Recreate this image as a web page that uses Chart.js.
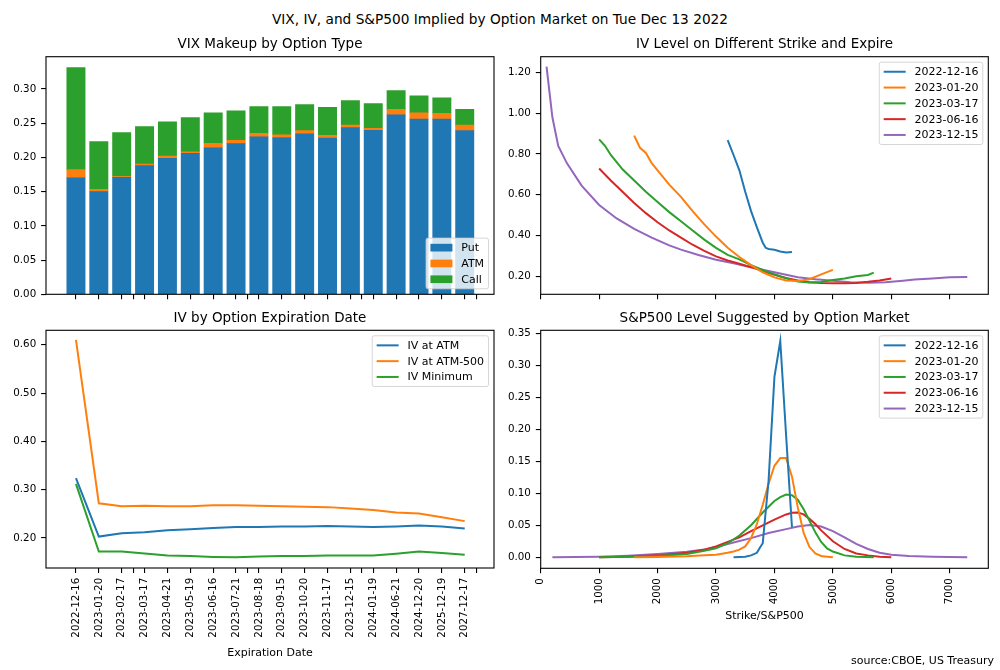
<!DOCTYPE html>
<html>
<head>
<meta charset="utf-8">
<script src="https://cdn.jsdelivr.net/npm/chart.js@4.4.0/dist/chart.umd.min.js"></script>
<style>
  body { margin: 0; background: #fff; width: 1000px; height: 670px; position: relative; overflow: hidden; font-family: "DejaVu Sans", sans-serif; color: #000; }
  canvas { position: absolute; }
  #sup { position: absolute; left: 0; top: 11px; width: 1000px; text-align: center; font-size: 13.7px; line-height: 16px; }
  #src { position: absolute; right: 6px; top: 654px; font-size: 11px; line-height: 13px; }
</style>
</head>
<body>
<div id="sup">VIX, IV, and S&amp;P500 Implied by Option Market on Tue Dec 13 2022</div>
<canvas id="c1" width="500" height="280" style="left:0;top:30px"></canvas>
<canvas id="c2" width="500" height="280" style="left:500px;top:30px"></canvas>
<canvas id="c3" width="500" height="365" style="left:0;top:305px"></canvas>
<canvas id="c4" width="500" height="365" style="left:500px;top:305px"></canvas>
<div id="src">source:CBOE, US Treasury</div>
<script>
// expirations (shared x of the left column)
const expiries = ['2022-12-16', '2023-01-20', '2023-02-17', '2023-03-17', '2023-04-21', '2023-05-19',
  '2023-06-16', '2023-07-21', '2023-08-18', '2023-09-15', '2023-10-20', '2023-11-17',
  '2023-12-15', '2024-01-19', '2024-06-21', '2024-12-20', '2025-12-19', '2027-12-17'];
const oddTicks = [2.5, 7.5, 12.5, 17.5];

// VIX makeup by option type (stacked)
const vixPut  = [0.170, 0.150, 0.171, 0.188, 0.1985, 0.206, 0.214, 0.220, 0.230, 0.229, 0.2345, 0.228, 0.2435, 0.2395, 0.262, 0.256, 0.256, 0.239];
const vixAtm  = [0.012, 0.003, 0.001, 0.002, 0.0035, 0.002, 0.0065, 0.005, 0.005, 0.004, 0.0045, 0.004, 0.0035, 0.003, 0.008, 0.009, 0.008, 0.008];
const vixCall = [0.149, 0.070, 0.064, 0.055, 0.050, 0.050, 0.0445, 0.043, 0.039, 0.041, 0.038, 0.041, 0.036, 0.036, 0.0276, 0.025, 0.023, 0.023];

// IV by expiration
const ivAtm    = [0.324, 0.203, 0.210, 0.212, 0.216, 0.218, 0.221, 0.223, 0.223, 0.224, 0.224, 0.225, 0.224, 0.223, 0.224, 0.226, 0.224, 0.220];
const ivAtm500 = [0.610, 0.272, 0.266, 0.267, 0.266, 0.266, 0.268, 0.268, 0.267, 0.266, 0.265, 0.264, 0.261, 0.258, 0.253, 0.251, 0.243, 0.235];
const ivMin    = [0.312, 0.172, 0.172, 0.168, 0.164, 0.163, 0.161, 0.160, 0.162, 0.163, 0.163, 0.164, 0.164, 0.164, 0.1675, 0.172, 0.169, 0.1655];

// IV smile per expiry: strikes and IV
const smileK1216 = [3200, 3300, 3400, 3500, 3600, 3700, 3800, 3850, 3900, 4000, 4100, 4200, 4300];
const smile1216  = [0.868, 0.795, 0.720, 0.615, 0.520, 0.440, 0.365, 0.340, 0.334, 0.330, 0.322, 0.317, 0.319];
const smileK0120 = [1600, 1650, 1700, 1800, 1900, 2000, 2200, 2400, 2600, 2800, 3000, 3200, 3400, 3600, 3800, 4000, 4200, 4400, 4600, 4800, 5000];
const smile0120  = [0.890, 0.860, 0.830, 0.805, 0.755, 0.720, 0.650, 0.590, 0.520, 0.455, 0.395, 0.340, 0.295, 0.255, 0.220, 0.195, 0.180, 0.177, 0.186, 0.210, 0.232];
const smileK0317 = [1000, 1100, 1200, 1300, 1400, 1600, 1800, 2000, 2200, 2400, 2600, 2800, 3000, 3200, 3400, 3600, 3800, 4000, 4200, 4400, 4600, 4800, 5000, 5200, 5400, 5600, 5700];
const smile0317  = [0.872, 0.840, 0.795, 0.760, 0.725, 0.670, 0.615, 0.565, 0.515, 0.470, 0.425, 0.380, 0.340, 0.305, 0.283, 0.255, 0.232, 0.210, 0.190, 0.175, 0.170, 0.172, 0.182, 0.190, 0.200, 0.207, 0.218];
const smileK0616 = [1000, 1200, 1400, 1600, 1800, 2000, 2200, 2400, 2600, 2800, 3000, 3200, 3400, 3600, 3800, 4000, 4200, 4400, 4600, 4800, 5000, 5200, 5400, 5600, 5800, 6000];
const smile0616  = [0.729, 0.670, 0.615, 0.560, 0.510, 0.465, 0.425, 0.390, 0.355, 0.325, 0.298, 0.278, 0.262, 0.245, 0.226, 0.208, 0.192, 0.180, 0.171, 0.167, 0.166, 0.166, 0.168, 0.173, 0.180, 0.190];
const smileK1215 = [100, 200, 300, 450, 700, 1000, 1300, 1600, 1900, 2200, 2400, 2700, 3000, 3300, 3600, 3900, 4200, 4400, 4700, 5000, 5300, 5600, 5900, 6200, 6400, 6700, 7000, 7300];
const smile1215  = [1.228, 0.980, 0.840, 0.754, 0.645, 0.550, 0.484, 0.433, 0.390, 0.352, 0.331, 0.305, 0.281, 0.264, 0.245, 0.226, 0.208, 0.196, 0.186, 0.179, 0.171, 0.169, 0.171, 0.179, 0.184, 0.189, 0.195, 0.197];

// implied S&P500 distribution per expiry
const pdfK1216 = [3300, 3400, 3500, 3600, 3700, 3750, 3800, 3900, 4000, 4100, 4200, 4300];
const pdf1216  = [0, 0.0005, 0.001, 0.003, 0.007, 0.015, 0.022, 0.120, 0.282, 0.338, 0.190, 0.047];
const pdfK0120 = [1600, 2000, 2500, 2800, 3000, 3200, 3300, 3400, 3500, 3600, 3700, 3800, 3900, 4000, 4100, 4200, 4300, 4400, 4500, 4600, 4700, 4800, 4900, 5000];
const pdf0120  = [0, 0.0005, 0.0015, 0.003, 0.004, 0.007, 0.009, 0.012, 0.017, 0.030, 0.052, 0.082, 0.115, 0.143, 0.155, 0.155, 0.126, 0.078, 0.038, 0.016, 0.006, 0.002, 0.001, 0];
const pdfK0317 = [1000, 1500, 2000, 2500, 2800, 3000, 3200, 3400, 3600, 3800, 4000, 4100, 4200, 4300, 4400, 4500, 4600, 4700, 4800, 4900, 5000, 5200, 5400, 5700];
const pdf0317  = [0, 0.0008, 0.002, 0.005, 0.010, 0.014, 0.022, 0.034, 0.050, 0.070, 0.088, 0.094, 0.098, 0.097, 0.090, 0.075, 0.057, 0.039, 0.024, 0.014, 0.009, 0.003, 0.001, 0];
const pdfK0616 = [1000, 1500, 2000, 2500, 2800, 3000, 3200, 3400, 3600, 3800, 4000, 4200, 4300, 4400, 4500, 4600, 4700, 4800, 5000, 5200, 5400, 5600, 5800, 6000];
const pdf0616  = [0, 0.001, 0.003, 0.007, 0.012, 0.017, 0.024, 0.031, 0.041, 0.050, 0.059, 0.067, 0.0695, 0.070, 0.067, 0.060, 0.052, 0.042, 0.025, 0.013, 0.006, 0.003, 0.001, 0];
const pdfK1215 = [200, 1000, 1500, 2000, 2500, 2800, 3000, 3300, 3600, 3900, 4200, 4400, 4600, 4800, 5000, 5200, 5400, 5600, 5800, 6000, 6300, 6700, 7300];
const pdf1215  = [0, 0.001, 0.0025, 0.005, 0.0085, 0.012, 0.016, 0.023, 0.030, 0.038, 0.044, 0.048, 0.0505, 0.048, 0.041, 0.031, 0.021, 0.013, 0.007, 0.004, 0.002, 0.001, 0];

const strikeTicks = [0, 1000, 2000, 3000, 4000, 5000, 6000, 7000];
const expiryLabels = ['2022-12-16', '2023-01-20', '2023-03-17', '2023-06-16', '2023-12-15'];

const FONT = '"DejaVu Sans"';
const TICK = 10.3;
const C = ['#1f77b4', '#ff7f0e', '#2ca02c', '#d62728', '#9467bd'];

// matplotlib-like frame around the axes
const frame = {
  id: 'frame',
  afterDatasetsDraw(chart) {
    const { ctx, chartArea: a } = chart;
    ctx.save();
    ctx.strokeStyle = '#000';
    ctx.lineWidth = 1.1;
    ctx.strokeRect(a.left, a.top, a.right - a.left, a.bottom - a.top);
    ctx.restore();
  }
};

// legend drawn inside the axes, like matplotlib's
const boxLegend = {
  id: 'boxLegend',
  afterDraw(chart, args, opts) {
    const { ctx, chartArea: a } = chart;
    const fs = 11, pad = 4.4, hl = 22, gap = 8.8, rowH = 10.3, sp = 5.5;
    const items = chart.data.datasets;
    ctx.save();
    ctx.font = fs + 'px ' + FONT;
    const tw = Math.max(...items.map(d => ctx.measureText(d.label).width));
    const w = pad * 2 + hl + gap + tw;
    const h = pad * 2 + items.length * rowH + (items.length - 1) * sp;
    const x = a.right - 5.5 - w;
    const y = opts.corner === 'bottom' ? a.bottom - 5.5 - h : a.top + 5.5;
    ctx.fillStyle = 'rgba(255,255,255,0.8)';
    ctx.strokeStyle = 'rgba(204,204,204,0.8)';
    ctx.lineWidth = 1;
    ctx.beginPath();
    ctx.roundRect(x, y, w, h, 2);
    ctx.fill();
    ctx.stroke();
    items.forEach((d, i) => {
      const cy = y + pad + rowH / 2 + i * (rowH + sp);
      if (opts.patch) {
        ctx.fillStyle = d.backgroundColor;
        ctx.fillRect(x + pad, cy - 3.85, hl, 7.7);
      } else {
        ctx.strokeStyle = d.borderColor;
        ctx.lineWidth = 2;
        ctx.beginPath();
        ctx.moveTo(x + pad, cy);
        ctx.lineTo(x + pad + hl, cy);
        ctx.stroke();
      }
      ctx.fillStyle = '#000';
      ctx.textBaseline = 'middle';
      ctx.fillText(d.label, x + pad + hl + gap, cy + 0.5);
    });
    ctx.restore();
  }
};

function yScale(width, min, max, ticks) {
  return {
    type: 'linear', min: min, max: max,
    afterFit: s => { s.width = width; },
    afterBuildTicks: s => { s.ticks = ticks.map(v => ({ value: v })); },
    ticks: { color: '#000', font: { family: FONT, size: TICK }, padding: 4.9, callback: v => v.toFixed(2) },
    grid: { drawOnChartArea: false, tickLength: 4.9, color: '#000', lineWidth: 1.1 },
    border: { display: false }
  };
}

function xScale(height, min, max, ticks, label, rotate, title, titlePad) {
  return {
    type: 'linear', min: min, max: max, offset: false,
    afterFit: s => { s.height = height; },
    afterBuildTicks: s => { s.ticks = ticks.map(v => ({ value: v })); },
    ticks: { color: '#000', font: { family: FONT, size: TICK }, padding: 4.9, autoSkip: false,
      minRotation: rotate ? 90 : 0, maxRotation: rotate ? 90 : 0, callback: label },
    grid: { drawOnChartArea: false, tickLength: 4.9, color: '#000', lineWidth: 1.1, offset: false },
    border: { display: false },
    title: title ? { display: true, text: title, color: '#000', font: { family: FONT, size: 11 }, padding: { top: 0, bottom: titlePad } } : { display: false }
  };
}

function titleOpts(text, top, bottom) {
  return { display: true, text: text, fullSize: false, color: '#000',
    font: { family: FONT, size: 13.5, weight: 'normal' }, padding: { top: top, bottom: bottom } };
}

function xy(xs, ys) { return xs.map((x, i) => ({ x: x, y: ys[i] })); }
function line(label, color, data) {
  return { label: label, data: data, borderColor: color, backgroundColor: color, borderWidth: 2, pointRadius: 0, tension: 0, fill: false };
}

const dateTicks = expiries.map((d, i) => i).concat(oddTicks).sort((a, b) => a - b);
const dateLabel = v => (Number.isInteger(v) ? expiries[v] : '');
const idx = expiries.map((d, i) => i);

// 1. VIX makeup
new Chart(document.getElementById('c1'), {
  type: 'bar',
  data: {
    datasets: [
      { label: 'Put', data: xy(idx, vixPut), backgroundColor: C[0] },
      { label: 'ATM', data: xy(idx, vixAtm), backgroundColor: C[1] },
      { label: 'Call', data: xy(idx, vixCall), backgroundColor: C[2] }
    ]
  },
  options: {
    responsive: false, animation: false, devicePixelRatio: 1,
    layout: { padding: { left: 0, right: 6, top: 0, bottom: 0 } },
    datasets: { bar: { barThickness: 18.3, borderWidth: 0 } },
    scales: {
      x: Object.assign(xScale(15.7, -1.31, 18.28, dateTicks, () => '', false), { stacked: true }),
      y: Object.assign(yScale(46, 0, 0.347, [0, 0.05, 0.10, 0.15, 0.20, 0.25, 0.30]), { stacked: true })
    },
    plugins: {
      legend: { display: false }, tooltip: { enabled: false },
      title: titleOpts('VIX Makeup by Option Type', 5.9, 4.6),
      boxLegend: { corner: 'bottom', patch: true }
    }
  },
  plugins: [frame, boxLegend]
});

// 2. IV smile
new Chart(document.getElementById('c2'), {
  type: 'line',
  data: {
    datasets: [
      line(expiryLabels[0], C[0], xy(smileK1216, smile1216)),
      line(expiryLabels[1], C[1], xy(smileK0120, smile0120)),
      line(expiryLabels[2], C[2], xy(smileK0317, smile0317)),
      line(expiryLabels[3], C[3], xy(smileK0616, smile0616)),
      line(expiryLabels[4], C[4], xy(smileK1215, smile1215))
    ]
  },
  options: {
    responsive: false, animation: false, devicePixelRatio: 1,
    layout: { padding: { left: 0, right: 11.7, top: 0, bottom: 0 } },
    scales: {
      x: xScale(15.7, 0, 7660, strikeTicks, () => '', false),
      y: yScale(40.7, 0.112, 1.277, [0.2, 0.4, 0.6, 0.8, 1.0, 1.2])
    },
    plugins: {
      legend: { display: false }, tooltip: { enabled: false },
      title: titleOpts('IV Level on Different Strike and Expire', 5.9, 4.6),
      boxLegend: { corner: 'top' }
    }
  },
  plugins: [frame, boxLegend]
});

// 3. IV by expiration
new Chart(document.getElementById('c3'), {
  type: 'line',
  data: {
    datasets: [
      line('IV at ATM', C[0], xy(idx, ivAtm)),
      line('IV at ATM-500', C[1], xy(idx, ivAtm500)),
      line('IV Minimum', C[2], xy(idx, ivMin))
    ]
  },
  options: {
    responsive: false, animation: false, devicePixelRatio: 1,
    layout: { padding: { left: 0, right: 6, top: 0, bottom: 0 } },
    scales: {
      x: xScale(102, -1.31, 18.28, dateTicks, dateLabel, true, 'Expiration Date', 10.4),
      y: yScale(46, 0.138, 0.630, [0.2, 0.3, 0.4, 0.5, 0.6])
    },
    plugins: {
      legend: { display: false }, tooltip: { enabled: false },
      title: titleOpts('IV by Option Expiration Date', 4.9, 4.2),
      boxLegend: { corner: 'top' }
    }
  },
  plugins: [frame, boxLegend]
});

// 4. implied S&P500 distribution
new Chart(document.getElementById('c4'), {
  type: 'line',
  data: {
    datasets: [
      line(expiryLabels[0], C[0], xy(pdfK1216, pdf1216)),
      line(expiryLabels[1], C[1], xy(pdfK0120, pdf0120)),
      line(expiryLabels[2], C[2], xy(pdfK0317, pdf0317)),
      line(expiryLabels[3], C[3], xy(pdfK0616, pdf0616)),
      line(expiryLabels[4], C[4], xy(pdfK1215, pdf1215))
    ]
  },
  options: {
    responsive: false, animation: false, devicePixelRatio: 1,
    layout: { padding: { left: 0, right: 11.7, top: 0, bottom: 0 } },
    scales: {
      x: xScale(101.7, 0, 7660, strikeTicks, v => String(v), true, 'Strike/S&P500', 47.5),
      y: yScale(40.7, -0.0172, 0.3547, [0, 0.05, 0.10, 0.15, 0.20, 0.25, 0.30, 0.35])
    },
    plugins: {
      legend: { display: false }, tooltip: { enabled: false },
      title: titleOpts('S&P500 Level Suggested by Option Market', 4.9, 4.2),
      boxLegend: { corner: 'top' }
    }
  },
  plugins: [frame, boxLegend]
});
</script>
</body>
</html>
